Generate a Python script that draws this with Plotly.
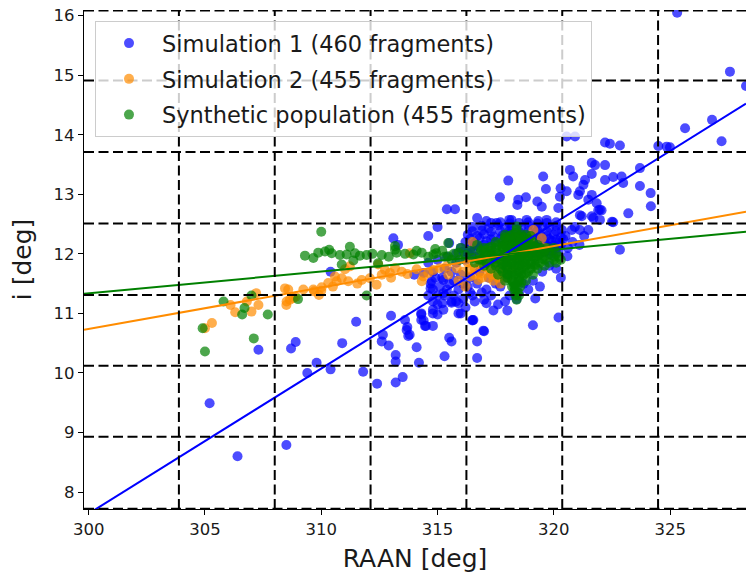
import plotly.graph_objects as go

# ---------------- data ----------------
series_names = [
    "Simulation 1 (460 fragments)",
    "Simulation 2 (455 fragments)",
    "Synthetic population (455 fragments)",
]
series_colors = ["#0000ff", "#ff8c00", "#008000"]

# Simulation 1 (RAAN [deg], i [deg])
sim1_points = [
    (305.2, 9.49), (306.4, 8.60), (308.5, 8.79), (307.3, 10.39), (308.7, 10.41),
    (308.9, 10.52), (309.4, 10.00), (309.8, 10.17), (310.4, 10.06), (310.9, 10.50),
    (311.5, 10.86), (311.8, 10.02), (310.4, 11.70), (312.4, 9.82), (313.2, 9.84),
    (313.5, 9.93), (313.2, 10.30), (313.2, 10.19), (314.2, 10.17), (314.1, 10.43),
    (315.3, 10.28), (315.6, 10.53), (316.7, 10.25), (316.7, 10.53), (317.0, 10.70),
    (316.5, 10.88), (315.9, 11.00), (319.1, 10.80), (320.2, 10.93), (318.4, 11.24),
    (312.6, 10.53), (312.9, 10.46), (312.65, 10.64), (313.6, 10.89), (313.7, 10.77),
    (313.8, 10.64), (314.3, 10.98), (314.4, 10.88), (314.5, 10.79), (314.8, 10.79),
    (314.8, 11.00), (315.2, 11.17), (315.6, 11.18), (315.9, 11.17), (317.0, 11.23),
    (317.1, 11.17), (316.5, 10.89), (315.5, 10.59), (313.0, 10.96), (313.1, 12.26),
    (313.3, 12.15), (315.5, 12.18), (315.4, 12.75), (315.75, 12.75), (314.0, 11.65),
    (314.4, 11.68), (314.75, 11.54), (314.8, 11.40), (315.25, 11.56), (315.25, 11.34),
    (314.8, 11.20), (315.6, 11.20), (314.8, 11.06), (314.3, 11.00), (315.0, 10.98),
    (315.25, 11.06), (314.3, 10.89), (314.46, 10.79), (313.67, 10.72), (313.74, 10.62),
    # upper right
    (325.3, 16.05), (327.57, 15.06), (328.26, 14.82), (325.64, 14.11), (326.8, 14.25),
    (327.21, 13.89), (324.49, 13.81), (324.85, 13.80), (324.99, 13.79), (322.2, 13.87),
    (322.41, 13.85), (322.84, 13.82), (320.55, 13.97), (320.91, 13.97), (321.63, 13.53),
    (321.77, 13.49), (322.2, 13.49), (320.69, 13.41), (320.83, 13.30), (321.63, 13.34),
    (321.34, 13.24), (322.2, 13.24), (322.55, 13.29), (322.91, 13.30), (322.98, 13.19),
    (323.7, 13.44), (323.7, 13.14), (321.27, 13.16), (321.12, 13.05), (321.05, 12.99),
    (320.55, 13.05), (324.16, 13.02), (324.17, 12.80), (323.2, 12.68), (321.84, 12.85),
    (321.91, 12.73), (322.05, 12.73), (322.55, 12.53), (321.63, 12.63), (321.2, 12.63),
    (322.84, 12.07), (321.12, 12.40), (321.48, 12.40), (320.58, 11.96), (321.12, 12.65),
    (321.7, 12.60), (321.98, 12.57), (322.5, 12.54), (320.77, 12.40), (321.48, 12.91),
    (321.63, 12.99), (321.98, 12.74), (320.5, 12.30), (320.8, 12.20), (321.1, 12.15),
    (320.6, 12.10), (320.9, 12.45), (321.3, 12.30),
    (318.04, 13.23), (319.54, 13.30), (319.66, 13.09), (317.68, 12.95), (318.47, 12.91),
    (318.80, 12.95), (318.43, 12.82), (319.29, 12.88), (319.48, 12.79), (320.19, 12.77),
    (320.26, 12.96), (320.29, 13.10), (318.08, 12.57), (318.83, 12.57), (319.33, 12.55),
    (319.69, 12.57), (317.54, 12.52), (318.18, 12.57), (317.1, 12.55), (316.7, 12.6),
    # dense core
    (316.5, 12.45), (316.9, 12.47), (317.2, 12.43), (317.6, 12.48), (317.9, 12.44),
    (318.2, 12.46), (318.6, 12.45), (318.9, 12.48), (319.2, 12.44), (319.5, 12.46),
    (319.8, 12.45), (320.1, 12.47),
    (316.3, 12.32), (316.7, 12.30), (317.0, 12.33), (317.4, 12.29), (317.8, 12.31),
    (318.1, 12.34), (318.5, 12.30), (318.8, 12.32), (319.1, 12.29), (319.4, 12.33),
    (319.7, 12.30), (320.0, 12.32), (320.3, 12.28),
    (316.2, 12.20), (316.6, 12.18), (317.1, 12.21), (317.5, 12.19), (318.0, 12.22),
    (318.7, 12.20), (319.0, 12.18), (319.3, 12.21), (319.6, 12.19), (319.9, 12.22),
    (320.2, 12.18),
    (316.0, 12.10), (316.4, 12.08), (316.8, 12.11), (317.3, 12.09), (319.2, 12.10),
    (319.5, 12.08), (319.8, 12.11), (320.1, 12.09),
    (315.8, 12.00), (316.3, 12.02), (316.9, 11.99), (319.4, 12.01), (319.9, 11.98),
    (317.3, 12.52), (317.7, 12.53), (318.1, 12.51), (318.5, 12.52), (318.9, 12.53),
    (319.3, 12.51), (319.7, 12.52), (320.1, 12.53),
    (316.5, 12.38), (316.9, 12.39), (317.3, 12.37), (317.7, 12.38), (318.1, 12.39),
    (318.5, 12.37), (318.9, 12.38), (319.3, 12.39), (319.7, 12.37), (320.1, 12.38),
    (320.35, 12.40),
    (316.4, 12.25), (316.8, 12.26), (317.3, 12.24), (317.7, 12.25), (318.3, 12.26),
    (318.9, 12.25), (319.2, 12.24), (319.5, 12.26), (319.8, 12.25), (320.1, 12.24),
    (320.4, 12.25),
    (316.6, 12.14), (317.0, 12.15), (319.1, 12.14), (319.4, 12.15), (319.7, 12.13),
    (320.0, 12.14), (320.3, 12.15),
    (319.3, 12.04), (319.6, 12.03), (319.9, 12.05), (320.2, 12.04), (316.1, 12.04),
    (316.5, 12.03),
    (314.6, 11.85), (315.0, 11.90), (315.4, 11.95), (315.8, 11.85), (316.2, 11.90),
    (316.6, 11.95), (314.8, 11.70), (315.2, 11.60), (315.6, 11.70), (316.0, 11.65),
    (316.4, 11.60), (316.8, 11.70), (317.2, 11.60), (314.7, 11.50), (315.1, 11.45),
    (315.5, 11.50), (315.9, 11.40), (316.3, 11.45), (316.7, 11.50), (317.1, 11.40),
    (317.5, 11.50), (315.3, 11.30), (315.7, 11.30), (316.1, 11.25), (316.5, 11.30),
    (316.9, 11.35), (317.3, 11.30), (317.7, 11.45), (317.9, 11.60), (318.1, 11.30),
    (318.7, 11.50), (319.1, 11.55), (319.5, 11.70), (319.8, 11.80), (320.1, 11.75),
    (320.3, 11.60), (319.2, 11.25), (318.5, 11.35), (317.6, 11.15), (316.2, 11.10),
    (314.9, 11.60), (315.3, 11.75), (315.7, 11.55), (316.1, 11.50), (314.6, 11.30),
    (315.0, 11.30), (315.4, 11.40), (315.8, 11.20), (316.4, 11.35), (316.6, 11.20),
    (315.0, 11.15), (314.7, 11.42), (317.4, 11.05), (317.9, 11.20), (318.9, 11.40),
    (319.4, 11.45), (318.0, 11.05),
    (315.0, 12.45), (314.6, 12.30), (316.0, 11.00), (316.54, 10.89), (316.97, 10.71),
]

# Simulation 2
sim2_points = [
    (305.3, 10.84), (305.0, 10.75), (306.3, 11.02), (306.1, 11.14), (306.8, 11.20),
    (307.0, 11.03), (307.3, 11.14), (307.2, 11.34), (308.5, 11.14), (308.65, 11.23),
    (308.9, 11.28), (309.7, 11.37), (309.9, 11.31), (308.44, 11.42), (308.58, 11.40),
    (308.51, 11.20), (308.80, 11.26), (309.23, 11.40), (309.66, 11.40), (310.02, 11.44),
    (310.30, 11.51), (310.66, 11.54), (310.88, 11.59), (311.16, 11.54), (311.55, 11.50),
    (311.23, 11.79), (311.02, 11.74), (311.74, 11.56), (312.09, 11.59), (312.38, 11.48),
    (312.6, 11.65), (312.74, 11.73), (312.45, 11.82), (312.95, 11.68), (313.17, 11.76),
    (313.46, 11.70), (313.81, 12.01), (314.1, 11.74), (314.39, 11.62), (314.32, 11.54),
    (314.82, 11.73), (315.1, 11.76), (315.46, 11.65), (315.39, 11.79), (310.59, 11.62),
    (310.0, 11.38), (310.5, 11.45), (313.0, 11.60), (313.7, 11.66), (314.6, 11.68),
    (315.82, 11.76), (316.1, 11.70), (316.4, 11.62), (316.75, 11.56), (316.6, 11.75),
    (316.9, 11.68), (317.25, 11.73), (317.47, 11.79), (317.2, 11.60), (317.6, 11.65),
    (317.8, 11.72), (317.4, 11.55), (317.9, 11.85), (318.0, 11.60), (317.1, 11.85),
    (316.8, 11.90), (318.2, 11.75), (316.3, 11.85), (315.9, 11.55), (319.12, 12.40),
    (319.48, 12.26), (318.98, 12.21), (318.6, 12.05), (319.2, 12.00), (319.6, 12.10),
    (316.5, 12.20), (317.1, 12.05), (318.3, 11.95), (317.7, 11.50), (316.2, 11.45),
    (317.2, 12.01), (318.98, 12.28),
    (316.6, 11.65), (316.9, 11.60), (317.0, 11.78), (317.3, 11.66), (317.6, 11.60),
    (317.9, 11.66), (317.5, 11.82), (316.4, 11.75), (316.8, 11.82),
]

# Synthetic population
synth_points = [
    (304.9, 10.75), (305.0, 10.36), (305.8, 11.20), (306.6, 10.98), (306.7, 11.09),
    (307.1, 10.58), (307.7, 10.98), (307.0, 11.30), (309.0, 11.24), (311.95, 11.30),
    (310.0, 12.37), (309.3, 11.97), (309.66, 11.93), (309.87, 12.02), (310.16, 12.04),
    (310.34, 12.07), (310.45, 12.01), (310.8, 11.98), (311.23, 12.12), (311.45, 12.01),
    (311.09, 11.99), (311.66, 11.97), (311.95, 11.98), (310.88, 11.82), (311.38, 11.89),
    (312.6, 11.98), (313.17, 12.13), (313.24, 12.02), (313.17, 12.07), (313.96, 11.99),
    (314.32, 12.02), (314.82, 11.99), (315.46, 12.18), (312.44, 11.84), (314.94, 12.01),
    (315.45, 11.96), (315.95, 11.90), (316.52, 11.93), (316.88, 12.06), (317.31, 11.98),
    (312.2, 12.00), (312.9, 11.95), (313.6, 12.00), (314.6, 11.95), (315.2, 12.05),
    (315.7, 12.00), (316.2, 11.98), (316.0, 12.10), (315.6, 11.90), (314.1, 12.05),
    (316.4, 12.05), (316.7, 12.15), (315.9, 12.02), (315.3, 11.95), (314.9, 12.08),
    # central spike
    (318.4, 12.46), (318.35, 12.35), (318.45, 12.25), (318.4, 12.15), (318.3, 11.45),
    (318.45, 11.35), (318.4, 11.23), (318.35, 11.30), (318.5, 11.55), (318.3, 11.65),
    (318.4, 12.40), (318.5, 12.05), (318.55, 11.45), (318.2, 11.45), (318.3, 11.38),
    # central body
    (317.9, 12.25), (318.1, 12.25), (318.6, 12.25), (318.9, 12.25),
    (317.6, 12.15), (317.9, 12.15), (318.2, 12.15), (318.7, 12.15), (319.0, 12.15), (319.3, 12.15),
    (317.3, 12.05), (317.7, 12.05), (318.0, 12.05), (318.3, 12.05), (318.8, 12.05), (319.1, 12.05),
    (319.5, 12.05), (319.8, 12.05),
    (317.0, 11.95), (317.4, 11.95), (317.8, 11.95), (318.1, 11.95), (318.6, 11.95), (318.9, 11.95),
    (319.2, 11.95), (319.6, 11.95), (320.0, 11.95), (320.2, 11.95),
    (316.6, 11.85), (317.1, 11.85), (317.5, 11.85), (317.9, 11.85), (318.2, 11.85), (318.7, 11.85),
    (319.0, 11.85), (319.4, 11.85), (319.8, 11.85), (320.1, 11.85),
    (317.3, 11.75), (317.7, 11.75), (318.0, 11.75), (318.6, 11.75), (319.0, 11.75), (319.3, 11.75),
    (317.6, 11.65), (318.0, 11.65), (318.7, 11.65), (319.1, 11.65),
    (317.9, 11.55), (318.2, 11.55), (318.8, 11.55),
    (317.9, 12.32), (318.2, 12.32), (318.6, 12.32), (318.8, 12.32),
    (317.5, 12.20), (317.8, 12.20), (318.0, 12.20), (318.3, 12.20), (318.5, 12.20), (318.8, 12.20),
    (319.1, 12.20),
    (317.0, 12.10), (317.2, 12.10), (317.5, 12.10), (317.8, 12.10), (318.2, 12.10), (318.6, 12.10),
    (318.9, 12.10), (319.2, 12.10), (319.4, 12.10), (319.7, 12.10), (320.0, 12.10),
    (316.8, 12.00), (317.2, 12.00), (317.6, 12.00), (318.0, 12.00), (318.4, 12.00), (318.7, 12.00),
    (319.0, 12.00), (319.4, 12.00), (319.8, 12.00), (320.1, 12.00),
    (316.8, 11.90), (317.3, 11.90), (317.7, 11.90), (318.0, 11.90), (318.4, 11.90), (318.5, 11.90),
    (318.8, 11.90), (319.2, 11.90), (319.6, 11.90), (320.0, 11.90), (320.3, 11.90),
    (317.0, 11.80), (317.5, 11.80), (317.9, 11.80), (318.3, 11.80), (318.5, 11.80), (318.8, 11.80),
    (319.2, 11.80), (319.6, 11.80),
    (317.8, 11.70), (318.2, 11.70), (318.5, 11.70), (318.9, 11.70),
    (318.0, 11.60), (318.5, 11.60),
    # solid core
    (317.9, 12.28), (318.1, 12.30), (318.3, 12.28), (318.5, 12.30), (318.7, 12.28), (319.0, 12.30),
    (317.8, 12.12), (318.0, 12.12), (318.2, 12.12), (318.4, 12.12), (318.6, 12.12), (318.8, 12.12),
    (319.0, 12.12), (319.2, 12.12),
    (317.7, 11.97), (317.9, 11.97), (318.1, 11.97), (318.3, 11.97), (318.5, 11.97), (318.7, 11.97),
    (318.9, 11.97), (319.1, 11.97), (319.3, 11.97),
    (317.8, 11.82), (318.0, 11.82), (318.2, 11.82), (318.4, 11.82), (318.6, 11.82), (318.8, 11.82),
    (319.0, 11.82), (319.2, 11.82),
    (318.0, 11.67), (318.2, 11.67), (318.4, 11.67), (318.6, 11.67), (318.8, 11.67),
    (318.25, 11.52), (318.45, 11.52), (318.6, 11.52), (318.35, 11.40), (318.5, 11.30), (318.3, 11.50),
    (317.0, 12.05), (317.3, 12.12), (316.9, 11.90), (319.5, 11.92), (319.6, 12.05), (317.5, 11.92),
]

# linear fits: i = intercept + slope * RAAN
fit_slopes = [0.2436, 0.0696, 0.03654]
fit_intercepts = [-65.442, -10.141, 0.375]

# dashed bin-edge grid
x_edges = [303.88, 308.0, 312.12, 316.24, 320.36, 324.48]
y_edges = [7.72, 8.93, 10.12, 11.31, 12.51, 13.71, 14.91, 16.086]

x_ticks = [300, 305, 310, 315, 320, 325]
y_ticks = [8, 9, 10, 11, 12, 13, 14, 15, 16]
x_range = [299.8, 328.26]
y_range = [7.715, 16.095]

FONT = "DejaVu Sans"

fig = go.Figure()

all_points = [sim1_points, sim2_points, synth_points]
for k, (name, color, pts) in enumerate(zip(series_names, series_colors, all_points)):
    xs = [p[0] for p in pts]
    ys = [p[1] for p in pts]
    fig.add_trace(go.Scatter(
        x=xs, y=ys, mode="markers", name=name, legendgroup=f"g{k}",
        marker=dict(color=color, size=10, opacity=0.7, line=dict(width=0)),
    ))

for color, a, b in zip(series_colors, fit_intercepts, fit_slopes):
    xl = list(x_range)
    yl = [a + b * x for x in xl]
    fig.add_trace(go.Scatter(
        x=xl, y=yl, mode="lines", showlegend=False, hoverinfo="skip",
        line=dict(color=color, width=2),
    ))

shapes = []
for xe in x_edges:
    shapes.append(dict(type="line", xref="x", yref="paper", x0=xe, x1=xe, y0=0, y1=1,
                       line=dict(color="black", width=2, dash="10px,4.5px"), layer="above"))
for ye in y_edges:
    shapes.append(dict(type="line", xref="paper", yref="y", x0=0, x1=1, y0=ye, y1=ye,
                       line=dict(color="black", width=2, dash="10px,4.5px"), layer="above"))

fig.update_layout(
    width=746, height=577,
    margin=dict(l=84, r=0, t=10, b=68),
    paper_bgcolor="white", plot_bgcolor="white",
    font=dict(family=FONT, color="#1a1a1a"),
    shapes=shapes,
    showlegend=True,
    legend=dict(
        x=0.0166, y=0.978, xanchor="left", yanchor="top",
        bgcolor="rgba(255,255,255,0.8)", bordercolor="#cccccc", borderwidth=1,
        font=dict(family=FONT, size=22.5, color="#1a1a1a"),
        traceorder="grouped", tracegroupgap=3.5, itemwidth=56,
    ),
    xaxis=dict(
        range=x_range, tickvals=x_ticks, ticks="outside", ticklen=5, tickwidth=1.3,
        tickcolor="black", showline=True, linecolor="black", linewidth=1.3,
        showgrid=False, zeroline=False, tickfont=dict(size=16.5),
        title=dict(text="RAAN [deg]", font=dict(size=25), standoff=11),
    ),
    yaxis=dict(
        range=y_range, tickvals=y_ticks, ticks="outside", ticklen=5, tickwidth=1.3,
        tickcolor="black", showline=True, linecolor="black", linewidth=1.3,
        showgrid=False, zeroline=False, tickfont=dict(size=16.5),
        title=dict(text="i [deg]", font=dict(size=25), standoff=14),
    ),
)

fig.write_html("out.html")
